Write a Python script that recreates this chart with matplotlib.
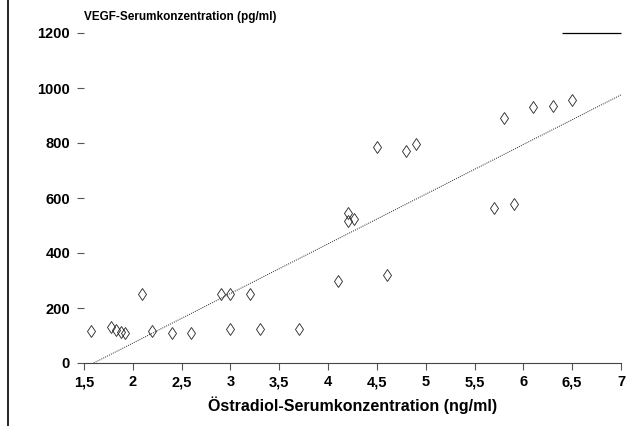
import matplotlib
matplotlib.use("Agg")
import matplotlib.pyplot as plt
from matplotlib.lines import Line2D

# Östradiol (ng/ml) vs VEGF (pg/ml)
oestradiol = [1.57, 1.78, 1.83, 1.88, 1.92, 2.09, 2.2, 2.4, 2.6,
              2.9, 3.0, 3.2, 3.0, 3.3, 3.7, 4.1, 4.6,
              4.2, 4.2, 4.27, 4.5, 4.8, 4.9,
              5.7, 5.9, 5.8, 6.1, 6.3, 6.5]
vegf = [116, 130, 120, 112, 108, 250, 115, 110, 110,
        250, 250, 250, 125, 125, 125, 300, 320,
        545, 515, 525, 785, 770, 795,
        565, 580, 890, 930, 935, 955]

# regression line end points
fit_x = [1.6, 7.0]
fit_y = [0, 975]

x_ticks = [1.5, 2, 2.5, 3, 3.5, 4, 4.5, 5, 5.5, 6, 6.5, 7]
x_tick_labels = ["1,5", "2", "2,5", "3", "3,5", "4", "4,5", "5", "5,5", "6", "6,5", "7"]
y_ticks = [0, 200, 400, 600, 800, 1000, 1200]

plt.rcParams["font.family"] = ["Liberation Sans", "DejaVu Sans"]

fig = plt.figure(figsize=(6.26, 4.26), dpi=100)
ax = fig.add_axes([84 / 626, 1 - 363 / 426, (621 - 84) / 626, (363 - 33) / 426])

ax.plot(fit_x, fit_y, color="#222222", linestyle=(0, (1, 1.2)), linewidth=0.7)
ax.plot(oestradiol, vegf, linestyle="none", marker="d", markersize=6,
        markerfacecolor="none", markeredgecolor="#222222", markeredgewidth=0.6)

ax.set_xlim(1.5, 7)
ax.set_ylim(0, 1200)
ax.set_xticks(x_ticks)
ax.set_xticklabels(x_tick_labels, fontsize=10.5, fontweight="bold")
ax.set_yticks(y_ticks)
ax.set_yticklabels([str(v) for v in y_ticks], fontsize=10.5, fontweight="bold")
ax.tick_params(axis="both", direction="out", length=5, width=0.8, color="#555555")
ax.tick_params(axis="y", pad=5)
ax.tick_params(axis="x", pad=4)

for side in ["top", "right", "left"]:
    ax.spines[side].set_visible(False)
ax.spines["bottom"].set_color("#444444")
ax.spines["bottom"].set_linewidth(0.8)

# remnant of the top frame at the upper right
ax.hlines(1200, 6.4, 7, color="black", linewidth=0.9, clip_on=False)

ax.text(0, 1.048, "VEGF-Serumkonzentration (pg/ml)", transform=ax.transAxes,
        ha="left", va="center", fontsize=8.5, fontweight="bold")
ax.set_xlabel("Östradiol-Serumkonzentration (ng/ml)", fontsize=11.5,
              fontweight="bold", labelpad=5)

# page edge on the left of the scan
fig.add_artist(Line2D([8 / 626, 8 / 626], [0, 1], color="black", linewidth=1.2))

fig.savefig("out.png", dpi=100, facecolor="white")
